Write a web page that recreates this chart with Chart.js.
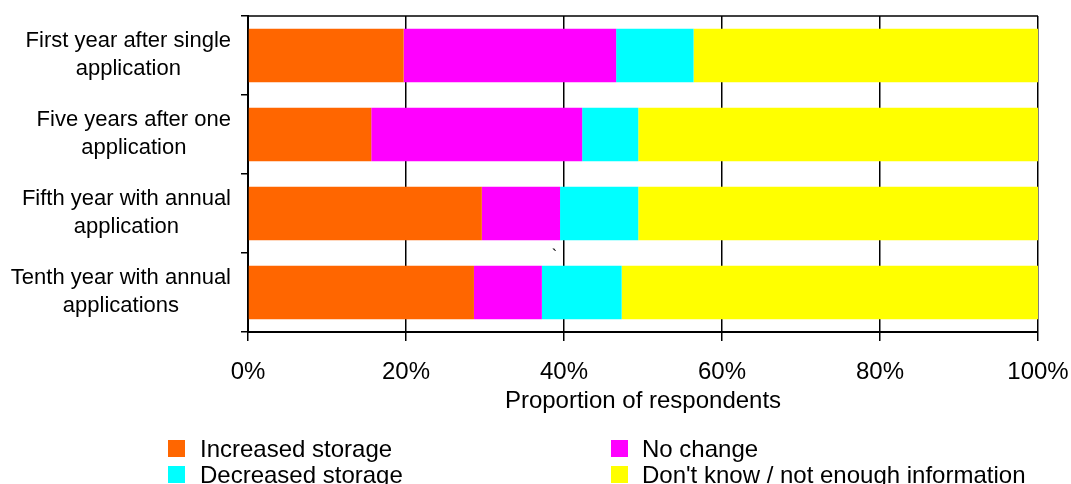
<!DOCTYPE html>
<html>
<head>
<meta charset="utf-8">
<script src="https://cdn.jsdelivr.net/npm/chart.js@4/dist/chart.umd.min.js"></script>
<style>
    html, body { margin: 0; padding: 0; background: #fff; }
    #wrap { width: 1071px; height: 484px; }
</style>
</head>
<body>
<div id="wrap"><canvas id="chart" width="1071" height="484"></canvas></div>
<script>
// カテゴリ(複数行ラベル)
const categories = [
    ['First year after single', 'application'],
    ['Five years after one', 'application'],
    ['Fifth year with annual', 'application'],
    ['Tenth year with annual', 'applications']
];

// 系列ごとの割合(%)
const increasedStorage = [19.7, 15.6, 29.6, 28.6];
const noChange = [26.9, 26.7, 9.9, 8.6];
const decreasedStorage = [9.8, 7.1, 9.9, 10.1];
const dontKnow = [43.6, 50.6, 50.6, 52.7];

const seriesNames = ['Increased storage', 'No change', 'Decreased storage', "Don't know / not enough information"];
const seriesColors = ['#FF6600', '#FF00FF', '#00FFFF', '#FFFF00'];

const xTicks = [0, 20, 40, 60, 80, 100];
const xTitle = 'Proportion of respondents';

const FONT = '"Liberation Sans", Arial, sans-serif';

// 枠線・Y軸ラベル・凡例を描くプラグイン
const decorPlugin = {
    id: 'decor',
    afterDraw(chart) {
        const ctx = chart.ctx;
        const area = chart.chartArea;
        const yScale = chart.scales.y;
        const xScale = chart.scales.x;
        ctx.save();

        // 上側の枠線
        ctx.strokeStyle = '#000';
        ctx.lineWidth = 1.5;
        ctx.beginPath();
        ctx.moveTo(area.left, area.top);
        ctx.lineTo(area.right, area.top);
        ctx.stroke();

        // Y軸ラベル: ブロックは右寄せ、行は中央揃え
        ctx.fillStyle = '#000';
        ctx.font = '22px ' + FONT;
        ctx.textAlign = 'center';
        ctx.textBaseline = 'alphabetic';
        const labelRight = 231;
        categories.forEach((lines, i) => {
            const cy = yScale.getPixelForValue(i);
            const widest = Math.max(...lines.map(l => ctx.measureText(l).width));
            const cx = labelRight - widest / 2;
            ctx.fillText(lines[0], cx, cy - 9);
            ctx.fillText(lines[1], cx, cy + 19);
        });

        // 元画像にある小さな記号
        ctx.font = '16px ' + FONT;
        ctx.fillText('`', xScale.getPixelForValue(38.8), (yScale.getPixelForValue(2) + yScale.getPixelForValue(3)) / 2 + 8);

        // 凡例 (2列)
        ctx.font = '24px ' + FONT;
        ctx.textAlign = 'left';
        const colBox = [168, 611];
        const colText = [200, 642];
        const rowY = [440, 466];
        seriesNames.forEach((name, i) => {
            const col = i % 2;
            const row = Math.floor(i / 2);
            ctx.fillStyle = seriesColors[i];
            ctx.fillRect(colBox[col], rowY[row], 17, 17);
            ctx.fillStyle = '#000';
            ctx.fillText(name, colText[col], rowY[row] + 17);
        });

        ctx.restore();
    }
};

const seriesData = [increasedStorage, noChange, decreasedStorage, dontKnow];

new Chart(document.getElementById('chart'), {
    type: 'bar',
    data: {
        labels: categories,
        datasets: seriesData.map((d, i) => ({
            label: seriesNames[i],
            data: d,
            backgroundColor: seriesColors[i],
            borderWidth: 0,
            categoryPercentage: 1.0,
            barPercentage: 0.68
        }))
    },
    options: {
        indexAxis: 'y',
        responsive: false,
        animation: false,
        layout: { padding: { left: 0, right: 33, top: 16, bottom: 68 } },
        plugins: {
            legend: { display: false },
            tooltip: { enabled: false }
        },
        scales: {
            x: {
                stacked: true,
                min: 0,
                max: 100,
                afterBuildTicks: (scale) => { scale.ticks = xTicks.map(v => ({ value: v })); },
                afterFit: (scale) => {
                    scale.height = 84;
                    scale.paddingLeft = 0;
                    scale.paddingRight = 0;
                },
                ticks: {
                    color: '#000',
                    padding: 17,
                    font: { family: FONT, size: 24 },
                    callback: (v) => v + '%'
                },
                grid: {
                    color: '#000',
                    lineWidth: 1.5,
                    tickLength: 9,
                    tickColor: '#000'
                },
                border: { color: '#000', width: 2 },
                title: {
                    display: true,
                    text: xTitle,
                    color: '#000',
                    font: { family: FONT, size: 24 },
                    padding: { top: 0, bottom: 0 }
                }
            },
            y: {
                stacked: true,
                afterFit: (scale) => {
                    scale.width = 248;
                    scale.paddingTop = 0;
                    scale.paddingBottom = 0;
                },
                ticks: { display: false },
                grid: {
                    offset: true,
                    drawOnChartArea: false,
                    tickLength: 7,
                    tickColor: '#000',
                    lineWidth: 1.5
                },
                border: { color: '#000', width: 2 }
            }
        }
    },
    plugins: [decorPlugin]
});
</script>
</body>
</html>
